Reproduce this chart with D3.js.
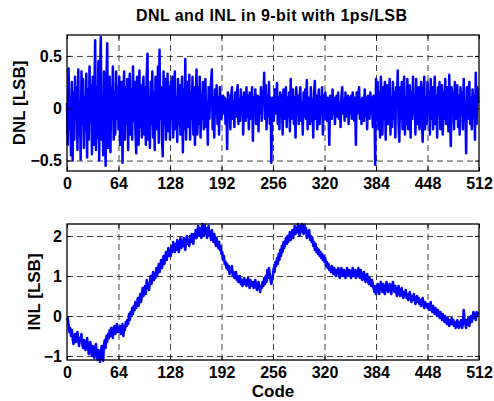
<!DOCTYPE html>
<html>
<head>
  <meta charset="utf-8">
  <title>DNL and INL</title>
  <script src="https://d3js.org/d3.v7.min.js"></script>
  <style>
    body { margin: 0; background: #fff; }
    text { font-family: "Liberation Sans", Arial, sans-serif; font-weight: bold; }
    .grid line { stroke: #444; stroke-dasharray: 6,4; stroke-width: 1; }
    .grid path { display: none; }
  </style>
</head>
<body>
<script>
// code ticks shared by both plots
const codeTicks = [0, 64, 128, 192, 256, 320, 384, 448, 512];
const dnlTicks = [-0.5, 0, 0.5];
const inlTicks = [-1, 0, 1, 2];

// DNL per code (LSB)
const dnl = [
  0.05, -0.35, 0.38, -0.2, 0.1, -0.45, 0.25, -0.5, 0.15, -0.3, 0.3, -0.1, 0.2, -0.4, 0.37, -0.25,
  0.05, -0.49, 0.35, -0.15, 0.28, -0.38, 0.1, -0.2, 0.33, -0.47, 0.18, -0.3, 0.4, -0.12, 0.22, -0.44,
  0.3, -0.35, 0.15, 0.65, -0.4, 0.2, -0.28, 0.45, -0.5, 0.3, 0.68, -0.3, 0.12, -0.45, 0.35, -0.2,
  -0.55, 0.25, 0.62, -0.38, 0.1, 0.3, -0.42, 0.2, -0.1, 0.4, -0.3, 0.15, -0.25, 0.35, -0.1, 0.2,
  -0.2, 0.3, -0.35, 0.15, 0.25, -0.52, 0.1, 0.35, -0.3, 0.2, -0.15, 0.28, -0.4, 0.05, 0.33, -0.25,
  0.18, -0.3, 0.4, -0.12, 0.25, -0.2, -0.43, 0.3, 0.1, -0.35, 0.36, -0.18, 0.22, -0.28, 0.12, 0.3,
  -0.25, 0.2, -0.35, 0.3, 0.52, -0.3, 0.1, -0.38, 0.25, -0.15, 0.35, -0.28, 0.15, -0.4, 0.3, 0.05,
  -0.2, 0.4, -0.33, 0.56, -0.1, 0.2, -0.3, -0.46, 0.35, -0.15, 0.28, -0.3, 0.1, 0.33, -0.22, 0.2,
  -0.3, 0.25, -0.1, 0.3, -0.28, 0.15, 0.35, -0.2, 0.1, -0.32, 0.28, -0.15, 0.22, -0.25, 0.05, 0.3,
  -0.42, 0.18, -0.2, 0.47, -0.3, 0.1, 0.25, -0.18, 0.32, -0.3, 0.15, -0.1, 0.3, -0.25, 0.2, -0.35,
  0.1, 0.37, -0.25, 0.2, -0.15, 0.3, -0.28, 0.12, -0.1, 0.25, -0.2, 0.15, 0.28, -0.18, 0.05, -0.35,
  0.2, -0.1, 0.15, 0.25, 0.37, -0.2, 0.1, -0.28, 0.18, -0.05, 0.22, -0.15, 0.1, -0.25, 0.2, 0.05,
  -0.1, 0.05, 0.12, -0.05, 0.1, -0.15, 0.08, -0.39, 0.15, -0.05, 0.12, -0.2, 0.1, 0.2, -0.1, 0.05,
  -0.18, 0.15, -0.08, 0.1, 0.22, -0.15, 0.08, -0.12, 0.18, -0.05, 0.1, -0.25, 0.15, 0.05, -0.12, 0.2,
  -0.08, 0.12, -0.2, 0.15, 0.05, -0.1, 0.2, -0.31, 0.1, -0.05, 0.18, -0.15, 0.08, 0.12, -0.22, 0.1,
  -0.05, 0.2, -0.12, 0.15, 0.05, 0.34, -0.1, 0.22, -0.2, 0.12, -0.08, 0.25, -0.15, 0.1, -0.52, 0.05,
  0.1, -0.12, 0.18, -0.05, 0.08, 0.24, -0.15, 0.1, -0.2, 0.15, -0.05, 0.12, -0.25, 0.18, 0.05, -0.1,
  0.2, -0.18, 0.1, -0.08, 0.15, -0.22, 0.28, -0.1, 0.05, 0.18, -0.15, 0.1, -0.28, 0.2, -0.05, 0.12,
  -0.15, 0.1, 0.2, -0.12, 0.05, -0.25, 0.15, -0.08, 0.18, -0.1, 0.27, -0.2, 0.1, 0.05, -0.15, 0.2,
  -0.12, 0.08, -0.28, 0.15, 0.26, -0.1, 0.12, -0.2, 0.05, 0.18, -0.15, 0.1, -0.05, 0.2, -0.25, 0.12,
  -0.1, 0.15, 0.05, -0.12, 0.1, -0.05, -0.35, 0.12, 0.08, -0.1, 0.18, -0.05, 0.1, -0.15, 0.05, 0.12,
  -0.08, 0.15, -0.1, 0.05, -0.18, 0.1, 0.2, -0.05, 0.08, -0.12, 0.15, -0.08, 0.05, 0.12, -0.15, 0.1,
  -0.05, 0.12, -0.1, 0.15, 0.05, -0.12, 0.1, -0.35, 0.15, -0.05, 0.12, 0.2, -0.1, 0.08, -0.15, 0.1,
  0.05, -0.12, 0.18, -0.08, 0.1, -0.2, 0.12, 0.05, -0.1, 0.15, -0.05, 0.1, -0.18, 0.12, 0.08, -0.54,
  0.28, -0.1, 0.25, -0.2, 0.15, -0.28, 0.3, 0.05, -0.25, 0.2, -0.1, 0.25, -0.3, 0.12, 0.22, -0.15,
  0.05, 0.28, -0.25, 0.1, -0.18, 0.25, -0.1, 0.15, -0.28, 0.2, 0.05, 0.36, -0.15, -0.32, 0.2, -0.1,
  0.25, -0.2, 0.15, 0.3, -0.25, 0.1, -0.15, 0.28, -0.2, 0.05, 0.22, -0.28, 0.15, -0.1, 0.3, -0.05,
  0.12, -0.25, 0.28, -0.15, 0.1, 0.2, -0.2, 0.05, 0.25, -0.1, -0.32, 0.15, 0.3, -0.2, 0.1, -0.15,
  0.25, -0.05, 0.15, -0.25, 0.28, -0.1, 0.2, -0.2, 0.05, 0.3, -0.15, 0.12, -0.28, 0.2, -0.05, 0.25,
  -0.2, 0.1, 0.22, -0.25, 0.15, -0.1, 0.28, -0.15, 0.05, 0.2, -0.22, 0.32, -0.1, -0.36, 0.2, -0.05,
  0.15, -0.2, 0.25, -0.1, 0.05, 0.22, -0.18, 0.12, -0.25, 0.2, -0.05, 0.15, -0.2, 0.28, -0.1, 0.05,
  -0.43, 0.2, -0.1, 0.15, 0.25, -0.15, 0.1, -0.2, 0.18, -0.05, 0.12, -0.3, 0.34, -0.15, 0.2, 0.05
];

// INL per code (LSB)
const inl = [
  -0.1, -0.05, -0.25, -0.4, -0.3, -0.5, -0.35, -0.55, -0.7, -0.5, -0.45, -0.65, -0.5, -0.4, -0.6, -0.75,
  -0.55, -0.6, -0.45, -0.7, -0.8, -0.6, -0.65, -0.85, -0.7, -0.55, -0.75, -0.95, -0.8, -0.65, -0.9, -1.0,
  -0.75, -0.85, -1.05, -0.8, -0.7, -0.95, -1.1, -0.85, -0.9, -1.15, -0.95, -0.75, -1.0, -1.12, -0.7, -0.6,
  -0.8, -0.5, -0.65, -0.45, -0.55, -0.35, -0.5, -0.3, -0.45, -0.55, -0.3, -0.25, -0.45, -0.35, -0.2, -0.4,
  -0.3, -0.4, -0.25, -0.45, -0.35, -0.2, -0.5, -0.3, -0.35, -0.15, -0.25, -0.1, -0.2, 0.05, -0.1, 0.1,
  0.0, 0.2, 0.05, 0.25, 0.15, 0.35, 0.2, 0.3, 0.45, 0.25, 0.4, 0.55, 0.35, 0.5, 0.7, 0.5,
  0.6, 0.75, 0.55, 0.9, 0.7, 0.8, 0.65, 0.85, 1.0, 0.8, 0.95, 1.1, 0.9, 1.05, 0.95, 1.2,
  1.0, 1.15, 1.3, 1.1, 1.25, 1.4, 1.2, 1.35, 1.5, 1.3, 1.45, 1.6, 1.4, 1.55, 1.7, 1.5,
  1.65, 1.5, 1.75, 1.6, 1.85, 1.7, 1.6, 1.8, 1.65, 1.9, 1.75, 1.6, 1.8, 1.95, 1.7, 1.85,
  1.75, 1.95, 1.8, 1.65, 1.9, 2.0, 1.8, 1.9, 1.75, 2.0, 1.85, 2.05, 1.9, 1.8, 2.05, 1.95,
  2.15, 1.95, 2.1, 2.25, 2.0, 2.2, 2.05, 1.95, 2.3, 2.1, 2.0, 2.28, 2.05, 2.2, 1.95, 2.15,
  2.25, 2.0, 2.1, 1.9, 2.15, 2.0, 1.85, 2.05, 1.9, 1.75, 1.95, 1.8, 1.7, 1.85, 1.65, 1.75,
  1.55, 1.6, 1.4, 1.5, 1.3, 1.35, 1.2, 1.3, 1.15, 1.25, 1.05, 1.2, 1.1, 1.25, 1.0, 1.1,
  0.95, 1.05, 1.1, 0.9, 1.0, 0.85, 0.95, 1.0, 0.8, 0.9, 0.75, 0.85, 0.95, 0.8, 0.9, 0.75,
  0.85, 0.95, 0.8, 0.7, 0.9, 0.8, 0.75, 0.85, 0.7, 0.8, 0.9, 0.75, 0.65, 0.8, 0.85, 0.7,
  0.6, 0.75, 0.7, 0.85, 0.75, 0.95, 0.8, 1.0, 0.85, 1.15, 0.95, 1.2, 1.05, 0.9, 0.8, 0.95,
  1.05, 1.2, 1.1, 1.35, 1.25, 1.45, 1.3, 1.55, 1.4, 1.65, 1.5, 1.75, 1.6, 1.85, 1.7, 1.8,
  1.95, 1.8, 2.0, 1.85, 1.95, 2.1, 1.9, 2.05, 2.15, 1.95, 2.1, 2.25, 2.05, 2.2, 2.1, 2.3,
  2.15, 2.0, 2.25, 2.1, 2.3, 2.15, 2.05, 2.28, 2.1, 2.2, 1.95, 2.1, 2.0, 2.15, 1.9, 2.0,
  1.85, 1.95, 1.75, 1.85, 1.65, 1.8, 1.6, 1.7, 1.55, 1.65, 1.5, 1.6, 1.45, 1.55, 1.4, 1.5,
  1.35, 1.45, 1.25, 1.35, 1.2, 1.3, 1.15, 1.2, 1.1, 1.25, 1.15, 1.05, 1.2, 1.1, 1.0, 1.15,
  1.05, 1.2, 1.1, 0.95, 1.1, 1.2, 1.05, 1.0, 1.15, 1.05, 0.95, 1.1, 1.2, 1.0, 1.05, 1.15,
  1.05, 0.95, 1.1, 1.2, 1.0, 1.05, 1.15, 0.95, 1.0, 1.1, 1.2, 1.0, 0.95, 1.15, 1.05, 0.9,
  1.0, 1.1, 0.95, 0.85, 1.0, 1.05, 0.9, 0.8, 0.95, 0.85, 0.75, 0.9, 0.8, 0.7, 0.6, 0.75,
  0.55, 0.7, 0.8, 0.65, 0.55, 0.75, 0.85, 0.7, 0.6, 0.8, 0.65, 0.55, 0.7, 0.85, 0.75, 0.6,
  0.7, 0.8, 0.65, 0.55, 0.75, 0.85, 0.7, 0.6, 0.75, 0.65, 0.5, 0.6, 0.75, 0.6, 0.5, 0.65,
  0.7, 0.55, 0.45, 0.6, 0.5, 0.65, 0.45, 0.55, 0.4, 0.5, 0.6, 0.45, 0.35, 0.5, 0.4, 0.55,
  0.45, 0.3, 0.4, 0.5, 0.35, 0.45, 0.3, 0.4, 0.25, 0.35, 0.45, 0.3, 0.2, 0.35, 0.25, 0.3,
  0.2, 0.3, 0.15, 0.25, 0.35, 0.15, 0.1, 0.25, 0.15, 0.05, 0.2, 0.1, 0.0, 0.15, 0.05, -0.05,
  0.1, 0.0, -0.1, 0.05, -0.05, -0.15, 0.0, -0.1, -0.2, -0.05, -0.15, -0.25, -0.1, -0.2, -0.05, -0.2,
  -0.1, -0.25, -0.15, -0.3, -0.2, -0.1, -0.25, -0.3, -0.15, -0.25, -0.1, -0.3, -0.2, 0.15, -0.05, -0.2,
  -0.3, -0.1, -0.2, -0.05, -0.25, -0.1, 0.0, -0.15, -0.05, 0.1, -0.05, 0.05, -0.1, 0.1, 0.0, 0.1
];

const width = 494, height = 401;
const left = 67, right = 479;

const svg = d3.select("body").append("svg")
  .attr("width", width)
  .attr("height", height);

const x = d3.scaleLinear().domain([0, 512]).range([left, right]);

function panel(data, yDomain, top, bottom, yTicks, yLabel, yLabelX) {
  const y = d3.scaleLinear().domain(yDomain).range([bottom, top]);
  const g = svg.append("g");

  // dashed grid
  g.append("g").attr("class", "grid")
    .attr("transform", "translate(0," + bottom + ")")
    .call(d3.axisBottom(x).tickValues(codeTicks.slice(1, -1)).tickSize(-(bottom - top)).tickFormat(""));
  g.append("g").attr("class", "grid")
    .attr("transform", "translate(" + left + ",0)")
    .call(d3.axisLeft(y).tickValues(yTicks).tickSize(-(right - left)).tickFormat(""));

  // the data line
  g.append("path")
    .datum(data)
    .attr("fill", "none")
    .attr("stroke", "#0000ff")
    .attr("stroke-width", 2.5)
    .attr("stroke-linejoin", "round")
    .attr("d", d3.line().x((d, i) => x(i)).y(d => y(d)));

  // box
  g.append("rect")
    .attr("x", left).attr("y", top)
    .attr("width", right - left).attr("height", bottom - top)
    .attr("fill", "none").attr("stroke", "#000").attr("stroke-width", 1.3);

  // inward ticks on all sides, labels on bottom and left
  const xb = g.append("g").attr("transform", "translate(0," + bottom + ")")
    .call(d3.axisBottom(x).tickValues(codeTicks).tickSizeInner(-4).tickSizeOuter(0).tickPadding(7));
  const xt = g.append("g").attr("transform", "translate(0," + top + ")")
    .call(d3.axisTop(x).tickValues(codeTicks).tickSizeInner(-4).tickSizeOuter(0).tickFormat(""));
  const yl = g.append("g").attr("transform", "translate(" + left + ",0)")
    .call(d3.axisLeft(y).tickValues(yTicks).tickSizeInner(-4).tickSizeOuter(0).tickPadding(5).tickFormat(d3.format("")));
  const yr = g.append("g").attr("transform", "translate(" + right + ",0)")
    .call(d3.axisRight(y).tickValues(yTicks).tickSizeInner(-4).tickSizeOuter(0).tickFormat(""));

  [xb, xt, yl, yr].forEach(a => {
    a.select(".domain").remove();
    a.selectAll("line").attr("stroke", "#000");
    a.selectAll("text").attr("fill", "#000").style("font-size", "16px").attr("font-family", null);
  });

  g.append("text")
    .attr("transform", "translate(" + yLabelX + "," + ((top + bottom) / 2) + ") rotate(-90)")
    .attr("text-anchor", "middle")
    .style("font-size", "17px")
    .text(yLabel);

  return y;
}

panel(dnl, [-0.6, 0.7], 35, 171, dnlTicks, "DNL [LSB]", 25);
panel(inl, [-1.1, 2.3], 224, 360, inlTicks, "INL [LSB]", 39.5);

const titleText = "DNL and INL in 9-bit with 1ps/LSB";
const title = svg.append("text")
  .attr("x", 136).attr("y", 21)
  .style("font-size", "16px")
  .text(titleText);
// the original title is spread wider than the font, so pad the letters out to ~271px
const tw = title.node().getComputedTextLength();
title.style("letter-spacing", ((271 - tw) / (titleText.length - 1)) + "px");

svg.append("text")
  .attr("x", (left + right) / 2).attr("y", 397)
  .attr("text-anchor", "middle")
  .style("font-size", "17px")
  .text("Code");
</script>
</body>
</html>
